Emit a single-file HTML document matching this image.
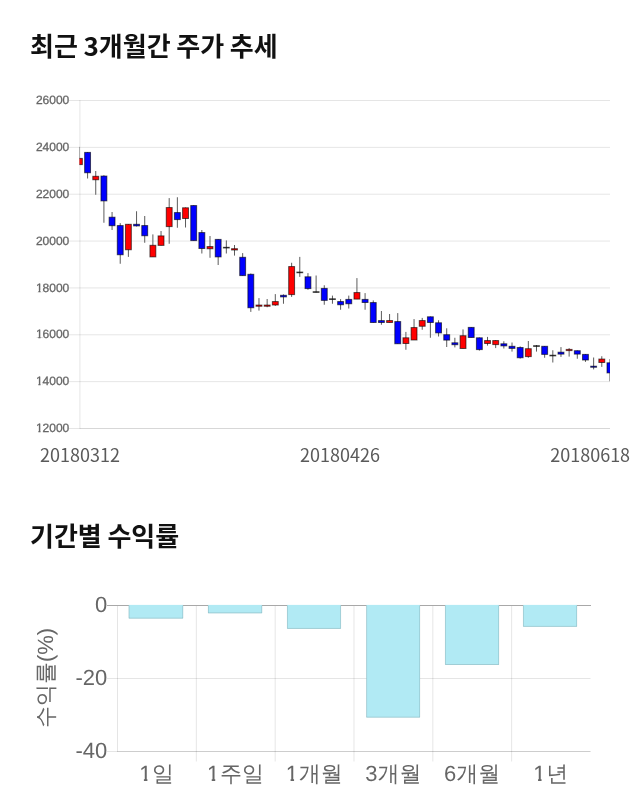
<!DOCTYPE html>
<html lang="ko">
<head>
<meta charset="utf-8">
<title>최근 3개월간 주가 추세</title>
<style>
html,body{margin:0;padding:0;background:#fff;}
body{width:640px;height:810px;position:relative;overflow:hidden;font-family:"Liberation Sans","Noto Sans CJK KR",sans-serif;}
h2{position:absolute;margin:0;left:30px;font-family:"Noto Sans CJK KR","Liberation Sans",sans-serif;font-weight:700;font-size:26px;line-height:36px;color:#111;white-space:nowrap;word-spacing:-1.6px;}
#t1{top:26.7px;}
#t2{top:516.5px;}
svg{position:absolute;left:0;top:0;}
.yl{font-family:"Liberation Sans",sans-serif;font-size:12px;fill:#666;stroke:#666;stroke-width:0.3px;text-anchor:end;text-rendering:geometricPrecision;}
.dl{font-family:"Noto Sans CJK KR","Liberation Sans",sans-serif;font-size:18px;fill:#5a5a5a;}
.bl{font-family:"Liberation Sans","WenQuanYi Zen Hei",sans-serif;font-size:22px;fill:#666;text-rendering:geometricPrecision;}
</style>
</head>
<body>
<h2 id="t1">최근 3개월간 주가 추세</h2>
<h2 id="t2">기간별 수익률</h2>
<svg width="640" height="810" viewBox="0 0 640 810">

<g stroke="#000" stroke-opacity="0.1" stroke-width="1">
<line x1="69" x2="610" y1="100.50" y2="100.50"/>
<line x1="69" x2="610" y1="147.36" y2="147.36"/>
<line x1="69" x2="610" y1="194.21" y2="194.21"/>
<line x1="69" x2="610" y1="241.07" y2="241.07"/>
<line x1="69" x2="610" y1="287.93" y2="287.93"/>
<line x1="69" x2="610" y1="334.79" y2="334.79"/>
<line x1="69" x2="610" y1="381.64" y2="381.64"/>
<line x1="69" x2="610" y1="428.50" y2="428.50"/>
<line x1="79.9" x2="79.9" y1="100" y2="429"/>
<line x1="80" x2="610" y1="428.5" y2="428.5" stroke-opacity="0.06"/>
</g>
<text class="yl" x="69.3" y="104.20">26000</text>
<text class="yl" x="69.3" y="151.06">24000</text>
<text class="yl" x="69.3" y="197.91">22000</text>
<text class="yl" x="69.3" y="244.77">20000</text>
<text class="yl" x="69.3" y="291.63">18000</text>
<path d="M34.93,290.33H38.38V292.83H34.93ZM40.53,290.33H42.68V292.83H40.53Z" fill="#fff"/>
<text class="yl" x="69.3" y="338.49">16000</text>
<path d="M34.93,337.19H38.38V339.69H34.93ZM40.53,337.19H42.68V339.69H40.53Z" fill="#fff"/>
<text class="yl" x="69.3" y="385.34">14000</text>
<path d="M34.93,384.04H38.38V386.54H34.93ZM40.53,384.04H42.68V386.54H40.53Z" fill="#fff"/>
<text class="yl" x="69.3" y="432.20">12000</text>
<path d="M34.93,430.90H38.38V433.40H34.93ZM40.53,430.90H42.68V433.40H40.53Z" fill="#fff"/>
<defs><clipPath id="cc"><rect x="79.5" y="95" width="530.5" height="336"/></clipPath></defs>
<g clip-path="url(#cc)">
<line x1="79.42" x2="79.42" y1="146.90" y2="164.60" stroke="#5c5c5c" stroke-width="1"/>
<rect x="76.47" y="158.40" width="5.90" height="6.20" fill="#ff0000" stroke="rgba(0,0,0,0.6)" stroke-width="1"/>
<line x1="87.58" x2="87.58" y1="152.10" y2="178.50" stroke="#5c5c5c" stroke-width="1"/>
<rect x="84.63" y="152.40" width="5.90" height="20.35" fill="#0000ff" stroke="rgba(0,0,0,0.6)" stroke-width="1"/>
<line x1="95.74" x2="95.74" y1="171.00" y2="194.75" stroke="#5c5c5c" stroke-width="1"/>
<rect x="92.79" y="176.30" width="5.90" height="3.45" fill="#ff0000" stroke="rgba(0,0,0,0.6)" stroke-width="1"/>
<line x1="103.91" x2="103.91" y1="175.25" y2="222.75" stroke="#5c5c5c" stroke-width="1"/>
<rect x="100.96" y="176.05" width="5.90" height="24.85" fill="#0000ff" stroke="rgba(0,0,0,0.6)" stroke-width="1"/>
<line x1="112.07" x2="112.07" y1="212.00" y2="230.00" stroke="#5c5c5c" stroke-width="1"/>
<rect x="109.12" y="217.20" width="5.90" height="8.50" fill="#0000ff" stroke="rgba(0,0,0,0.6)" stroke-width="1"/>
<line x1="120.23" x2="120.23" y1="223.10" y2="263.75" stroke="#5c5c5c" stroke-width="1"/>
<rect x="117.28" y="225.55" width="5.90" height="29.20" fill="#0000ff" stroke="rgba(0,0,0,0.6)" stroke-width="1"/>
<line x1="128.39" x2="128.39" y1="224.00" y2="256.90" stroke="#5c5c5c" stroke-width="1"/>
<rect x="125.44" y="224.30" width="5.90" height="25.45" fill="#ff0000" stroke="rgba(0,0,0,0.6)" stroke-width="1"/>
<line x1="136.55" x2="136.55" y1="211.25" y2="226.50" stroke="#5c5c5c" stroke-width="1"/>
<rect x="133.60" y="224.30" width="5.90" height="1.60" fill="#0000ff" stroke="rgba(0,0,0,0.6)" stroke-width="1"/>
<line x1="144.72" x2="144.72" y1="216.00" y2="242.75" stroke="#5c5c5c" stroke-width="1"/>
<rect x="141.77" y="225.55" width="5.90" height="10.20" fill="#0000ff" stroke="rgba(0,0,0,0.6)" stroke-width="1"/>
<line x1="152.88" x2="152.88" y1="234.40" y2="256.90" stroke="#5c5c5c" stroke-width="1"/>
<rect x="149.93" y="245.30" width="5.90" height="11.60" fill="#ff0000" stroke="rgba(0,0,0,0.6)" stroke-width="1"/>
<line x1="161.04" x2="161.04" y1="231.00" y2="245.40" stroke="#5c5c5c" stroke-width="1"/>
<rect x="158.09" y="235.90" width="5.90" height="9.50" fill="#ff0000" stroke="rgba(0,0,0,0.6)" stroke-width="1"/>
<line x1="169.20" x2="169.20" y1="198.10" y2="243.75" stroke="#5c5c5c" stroke-width="1"/>
<rect x="166.25" y="207.55" width="5.90" height="19.05" fill="#ff0000" stroke="rgba(0,0,0,0.6)" stroke-width="1"/>
<line x1="177.36" x2="177.36" y1="197.25" y2="227.75" stroke="#5c5c5c" stroke-width="1"/>
<rect x="174.41" y="212.55" width="5.90" height="7.05" fill="#0000ff" stroke="rgba(0,0,0,0.6)" stroke-width="1"/>
<line x1="185.53" x2="185.53" y1="207.50" y2="227.50" stroke="#5c5c5c" stroke-width="1"/>
<rect x="182.58" y="207.80" width="5.90" height="10.70" fill="#ff0000" stroke="rgba(0,0,0,0.6)" stroke-width="1"/>
<line x1="193.69" x2="193.69" y1="205.25" y2="240.60" stroke="#5c5c5c" stroke-width="1"/>
<rect x="190.74" y="205.55" width="5.90" height="35.05" fill="#0000ff" stroke="rgba(0,0,0,0.6)" stroke-width="1"/>
<line x1="201.85" x2="201.85" y1="230.00" y2="253.50" stroke="#5c5c5c" stroke-width="1"/>
<rect x="198.90" y="232.55" width="5.90" height="15.95" fill="#0000ff" stroke="rgba(0,0,0,0.6)" stroke-width="1"/>
<line x1="210.01" x2="210.01" y1="236.00" y2="257.75" stroke="#5c5c5c" stroke-width="1"/>
<rect x="207.06" y="246.55" width="5.90" height="2.20" fill="#ff0000" stroke="rgba(0,0,0,0.6)" stroke-width="1"/>
<line x1="218.17" x2="218.17" y1="239.10" y2="265.00" stroke="#5c5c5c" stroke-width="1"/>
<rect x="215.22" y="239.40" width="5.90" height="17.50" fill="#0000ff" stroke="rgba(0,0,0,0.6)" stroke-width="1"/>
<line x1="226.34" x2="226.34" y1="240.40" y2="253.50" stroke="#5c5c5c" stroke-width="1"/>
<rect x="223.39" y="247.30" width="5.90" height="0.70" fill="#333333" stroke="rgba(0,0,0,0.6)" stroke-width="1"/>
<line x1="234.50" x2="234.50" y1="245.00" y2="255.60" stroke="#5c5c5c" stroke-width="1"/>
<rect x="231.55" y="248.70" width="5.90" height="1.30" fill="#ff0000" stroke="rgba(0,0,0,0.6)" stroke-width="1"/>
<line x1="242.66" x2="242.66" y1="253.10" y2="275.60" stroke="#5c5c5c" stroke-width="1"/>
<rect x="239.71" y="257.30" width="5.90" height="18.30" fill="#0000ff" stroke="rgba(0,0,0,0.6)" stroke-width="1"/>
<line x1="250.82" x2="250.82" y1="273.50" y2="311.90" stroke="#5c5c5c" stroke-width="1"/>
<rect x="247.87" y="274.30" width="5.90" height="33.45" fill="#0000ff" stroke="rgba(0,0,0,0.6)" stroke-width="1"/>
<line x1="258.98" x2="258.98" y1="298.10" y2="310.60" stroke="#5c5c5c" stroke-width="1"/>
<rect x="256.03" y="305.05" width="5.90" height="1.20" fill="#ff0000" stroke="rgba(0,0,0,0.6)" stroke-width="1"/>
<line x1="267.15" x2="267.15" y1="299.00" y2="307.25" stroke="#5c5c5c" stroke-width="1"/>
<rect x="264.20" y="305.05" width="5.90" height="1.20" fill="#ff0000" stroke="rgba(0,0,0,0.6)" stroke-width="1"/>
<line x1="275.31" x2="275.31" y1="294.10" y2="305.90" stroke="#5c5c5c" stroke-width="1"/>
<rect x="272.36" y="301.55" width="5.90" height="3.45" fill="#ff0000" stroke="rgba(0,0,0,0.6)" stroke-width="1"/>
<line x1="283.47" x2="283.47" y1="294.40" y2="303.75" stroke="#5c5c5c" stroke-width="1"/>
<rect x="280.52" y="295.30" width="5.90" height="1.60" fill="#0000ff" stroke="rgba(0,0,0,0.6)" stroke-width="1"/>
<line x1="291.63" x2="291.63" y1="262.75" y2="296.90" stroke="#5c5c5c" stroke-width="1"/>
<rect x="288.68" y="266.55" width="5.90" height="28.05" fill="#ff0000" stroke="rgba(0,0,0,0.6)" stroke-width="1"/>
<line x1="299.79" x2="299.79" y1="256.90" y2="276.90" stroke="#5c5c5c" stroke-width="1"/>
<rect x="296.84" y="272.05" width="5.90" height="0.70" fill="#333333" stroke="rgba(0,0,0,0.6)" stroke-width="1"/>
<line x1="307.96" x2="307.96" y1="273.10" y2="289.75" stroke="#5c5c5c" stroke-width="1"/>
<rect x="305.01" y="276.80" width="5.90" height="11.80" fill="#0000ff" stroke="rgba(0,0,0,0.6)" stroke-width="1"/>
<line x1="316.12" x2="316.12" y1="275.50" y2="292.50" stroke="#5c5c5c" stroke-width="1"/>
<rect x="313.17" y="291.70" width="5.90" height="0.70" fill="#333333" stroke="rgba(0,0,0,0.6)" stroke-width="1"/>
<line x1="324.28" x2="324.28" y1="285.25" y2="304.75" stroke="#5c5c5c" stroke-width="1"/>
<rect x="321.33" y="288.40" width="5.90" height="12.00" fill="#0000ff" stroke="rgba(0,0,0,0.6)" stroke-width="1"/>
<line x1="332.44" x2="332.44" y1="295.60" y2="303.75" stroke="#5c5c5c" stroke-width="1"/>
<rect x="329.49" y="298.80" width="5.90" height="0.70" fill="#333333" stroke="rgba(0,0,0,0.6)" stroke-width="1"/>
<line x1="340.60" x2="340.60" y1="299.10" y2="309.75" stroke="#5c5c5c" stroke-width="1"/>
<rect x="337.65" y="301.55" width="5.90" height="3.20" fill="#0000ff" stroke="rgba(0,0,0,0.6)" stroke-width="1"/>
<line x1="348.77" x2="348.77" y1="295.60" y2="308.50" stroke="#5c5c5c" stroke-width="1"/>
<rect x="345.82" y="299.40" width="5.90" height="4.35" fill="#0000ff" stroke="rgba(0,0,0,0.6)" stroke-width="1"/>
<line x1="356.93" x2="356.93" y1="278.10" y2="299.10" stroke="#5c5c5c" stroke-width="1"/>
<rect x="353.98" y="292.55" width="5.90" height="6.55" fill="#ff0000" stroke="rgba(0,0,0,0.6)" stroke-width="1"/>
<line x1="365.09" x2="365.09" y1="293.10" y2="309.75" stroke="#5c5c5c" stroke-width="1"/>
<rect x="362.14" y="299.40" width="5.90" height="3.10" fill="#0000ff" stroke="rgba(0,0,0,0.6)" stroke-width="1"/>
<line x1="373.25" x2="373.25" y1="300.40" y2="322.50" stroke="#5c5c5c" stroke-width="1"/>
<rect x="370.30" y="302.55" width="5.90" height="19.95" fill="#0000ff" stroke="rgba(0,0,0,0.6)" stroke-width="1"/>
<line x1="381.41" x2="381.41" y1="311.00" y2="324.75" stroke="#5c5c5c" stroke-width="1"/>
<rect x="378.46" y="320.60" width="5.90" height="1.90" fill="#0000ff" stroke="rgba(0,0,0,0.6)" stroke-width="1"/>
<line x1="389.58" x2="389.58" y1="314.00" y2="322.50" stroke="#5c5c5c" stroke-width="1"/>
<rect x="386.63" y="320.55" width="5.90" height="1.95" fill="#ff0000" stroke="rgba(0,0,0,0.6)" stroke-width="1"/>
<line x1="397.74" x2="397.74" y1="313.10" y2="343.75" stroke="#5c5c5c" stroke-width="1"/>
<rect x="394.79" y="321.55" width="5.90" height="22.20" fill="#0000ff" stroke="rgba(0,0,0,0.6)" stroke-width="1"/>
<line x1="405.90" x2="405.90" y1="331.90" y2="349.75" stroke="#5c5c5c" stroke-width="1"/>
<rect x="402.95" y="337.80" width="5.90" height="5.70" fill="#ff0000" stroke="rgba(0,0,0,0.6)" stroke-width="1"/>
<line x1="414.06" x2="414.06" y1="319.10" y2="340.00" stroke="#5c5c5c" stroke-width="1"/>
<rect x="411.11" y="327.55" width="5.90" height="12.45" fill="#ff0000" stroke="rgba(0,0,0,0.6)" stroke-width="1"/>
<line x1="422.22" x2="422.22" y1="317.90" y2="329.75" stroke="#5c5c5c" stroke-width="1"/>
<rect x="419.27" y="320.55" width="5.90" height="5.70" fill="#ff0000" stroke="rgba(0,0,0,0.6)" stroke-width="1"/>
<line x1="430.39" x2="430.39" y1="316.50" y2="337.75" stroke="#5c5c5c" stroke-width="1"/>
<rect x="427.44" y="316.80" width="5.90" height="5.70" fill="#0000ff" stroke="rgba(0,0,0,0.6)" stroke-width="1"/>
<line x1="438.55" x2="438.55" y1="320.25" y2="336.50" stroke="#5c5c5c" stroke-width="1"/>
<rect x="435.60" y="322.80" width="5.90" height="10.10" fill="#0000ff" stroke="rgba(0,0,0,0.6)" stroke-width="1"/>
<line x1="446.71" x2="446.71" y1="328.30" y2="347.00" stroke="#5c5c5c" stroke-width="1"/>
<rect x="443.76" y="334.70" width="5.90" height="5.40" fill="#0000ff" stroke="rgba(0,0,0,0.6)" stroke-width="1"/>
<line x1="454.87" x2="454.87" y1="337.75" y2="347.40" stroke="#5c5c5c" stroke-width="1"/>
<rect x="451.92" y="342.80" width="5.90" height="1.90" fill="#0000ff" stroke="rgba(0,0,0,0.6)" stroke-width="1"/>
<line x1="463.03" x2="463.03" y1="329.40" y2="348.50" stroke="#5c5c5c" stroke-width="1"/>
<rect x="460.08" y="335.70" width="5.90" height="12.80" fill="#ff0000" stroke="rgba(0,0,0,0.6)" stroke-width="1"/>
<line x1="471.20" x2="471.20" y1="327.10" y2="337.50" stroke="#5c5c5c" stroke-width="1"/>
<rect x="468.25" y="327.40" width="5.90" height="10.10" fill="#0000ff" stroke="rgba(0,0,0,0.6)" stroke-width="1"/>
<line x1="479.36" x2="479.36" y1="337.50" y2="350.60" stroke="#5c5c5c" stroke-width="1"/>
<rect x="476.41" y="337.80" width="5.90" height="11.80" fill="#0000ff" stroke="rgba(0,0,0,0.6)" stroke-width="1"/>
<line x1="487.52" x2="487.52" y1="336.90" y2="345.60" stroke="#5c5c5c" stroke-width="1"/>
<rect x="484.57" y="340.55" width="5.90" height="2.95" fill="#ff0000" stroke="rgba(0,0,0,0.6)" stroke-width="1"/>
<line x1="495.68" x2="495.68" y1="340.25" y2="348.10" stroke="#5c5c5c" stroke-width="1"/>
<rect x="492.73" y="340.55" width="5.90" height="4.05" fill="#ff0000" stroke="rgba(0,0,0,0.6)" stroke-width="1"/>
<line x1="503.84" x2="503.84" y1="341.25" y2="348.50" stroke="#5c5c5c" stroke-width="1"/>
<rect x="500.89" y="343.80" width="5.90" height="2.10" fill="#0000ff" stroke="rgba(0,0,0,0.6)" stroke-width="1"/>
<line x1="512.01" x2="512.01" y1="342.50" y2="351.60" stroke="#5c5c5c" stroke-width="1"/>
<rect x="509.06" y="346.30" width="5.90" height="2.10" fill="#0000ff" stroke="rgba(0,0,0,0.6)" stroke-width="1"/>
<line x1="520.17" x2="520.17" y1="346.40" y2="358.60" stroke="#5c5c5c" stroke-width="1"/>
<rect x="517.22" y="347.50" width="5.90" height="10.25" fill="#0000ff" stroke="rgba(0,0,0,0.6)" stroke-width="1"/>
<line x1="528.33" x2="528.33" y1="341.00" y2="357.75" stroke="#5c5c5c" stroke-width="1"/>
<rect x="525.38" y="348.70" width="5.90" height="7.90" fill="#ff0000" stroke="rgba(0,0,0,0.6)" stroke-width="1"/>
<line x1="536.49" x2="536.49" y1="345.00" y2="351.60" stroke="#5c5c5c" stroke-width="1"/>
<rect x="533.54" y="345.70" width="5.90" height="0.70" fill="#333333" stroke="rgba(0,0,0,0.6)" stroke-width="1"/>
<line x1="544.65" x2="544.65" y1="346.00" y2="357.75" stroke="#5c5c5c" stroke-width="1"/>
<rect x="541.70" y="346.30" width="5.90" height="8.10" fill="#0000ff" stroke="rgba(0,0,0,0.6)" stroke-width="1"/>
<line x1="552.82" x2="552.82" y1="350.25" y2="362.50" stroke="#5c5c5c" stroke-width="1"/>
<rect x="549.87" y="355.20" width="5.90" height="0.70" fill="#333333" stroke="rgba(0,0,0,0.6)" stroke-width="1"/>
<line x1="560.98" x2="560.98" y1="347.10" y2="356.90" stroke="#5c5c5c" stroke-width="1"/>
<rect x="558.03" y="352.20" width="5.90" height="1.90" fill="#0000ff" stroke="rgba(0,0,0,0.6)" stroke-width="1"/>
<line x1="569.14" x2="569.14" y1="348.10" y2="356.60" stroke="#5c5c5c" stroke-width="1"/>
<rect x="566.19" y="349.40" width="5.90" height="1.20" fill="#ff0000" stroke="rgba(0,0,0,0.6)" stroke-width="1"/>
<line x1="577.30" x2="577.30" y1="350.40" y2="358.75" stroke="#5c5c5c" stroke-width="1"/>
<rect x="574.35" y="350.70" width="5.90" height="3.40" fill="#0000ff" stroke="rgba(0,0,0,0.6)" stroke-width="1"/>
<line x1="585.46" x2="585.46" y1="354.10" y2="361.90" stroke="#5c5c5c" stroke-width="1"/>
<rect x="582.51" y="354.40" width="5.90" height="5.60" fill="#0000ff" stroke="rgba(0,0,0,0.6)" stroke-width="1"/>
<line x1="593.63" x2="593.63" y1="357.50" y2="369.40" stroke="#5c5c5c" stroke-width="1"/>
<rect x="590.68" y="366.20" width="5.90" height="1.05" fill="#0000ff" stroke="rgba(0,0,0,0.6)" stroke-width="1"/>
<line x1="601.79" x2="601.79" y1="356.25" y2="366.90" stroke="#5c5c5c" stroke-width="1"/>
<rect x="598.84" y="359.05" width="5.90" height="3.45" fill="#ff0000" stroke="rgba(0,0,0,0.6)" stroke-width="1"/>
<line x1="609.95" x2="609.95" y1="359.10" y2="381.25" stroke="#5c5c5c" stroke-width="1"/>
<rect x="607.00" y="362.80" width="5.90" height="10.10" fill="#0000ff" stroke="rgba(0,0,0,0.6)" stroke-width="1"/>
</g>
<text class="dl" x="40" y="461.9">20180312</text>
<text class="dl" x="300" y="461.9">20180426</text>
<text class="dl" x="550.2" y="461.9">20180618</text>
<g stroke="#000" stroke-opacity="0.1" stroke-width="1">
<line x1="107" x2="590.5" y1="678.5" y2="678.5"/>
<line x1="107" x2="590.5" y1="751.5" y2="751.5"/>
<line x1="117.5" x2="590.5" y1="751.5" y2="751.5"/>
<line x1="117.50" x2="117.50" y1="605" y2="752"/>
<line x1="196.33" x2="196.33" y1="605" y2="761.5"/>
<line x1="275.16" x2="275.16" y1="605" y2="761.5"/>
<line x1="353.99" x2="353.99" y1="605" y2="761.5"/>
<line x1="432.82" x2="432.82" y1="605" y2="761.5"/>
<line x1="511.65" x2="511.65" y1="605" y2="761.5"/>
</g>
<rect x="107" y="605" width="483.5" height="1" fill="#a8a8a8" shape-rendering="crispEdges"/>
<rect x="128.70" y="604.9" width="54.40" height="13.70" fill="#b1eaf4"/>
<path d="M129.00,605.5V618.20H182.80V605.5" fill="none" stroke="#000" stroke-opacity="0.13" stroke-width="1"/>
<rect x="208.00" y="604.9" width="54.10" height="8.40" fill="#b1eaf4"/>
<path d="M208.30,605.5V612.90H261.80V605.5" fill="none" stroke="#000" stroke-opacity="0.13" stroke-width="1"/>
<rect x="287.10" y="604.9" width="53.80" height="23.95" fill="#b1eaf4"/>
<path d="M287.40,605.5V628.45H340.60V605.5" fill="none" stroke="#000" stroke-opacity="0.13" stroke-width="1"/>
<rect x="366.30" y="604.9" width="53.70" height="112.70" fill="#b1eaf4"/>
<path d="M366.60,605.5V717.20H419.70V605.5" fill="none" stroke="#000" stroke-opacity="0.13" stroke-width="1"/>
<rect x="445.10" y="604.9" width="53.90" height="60.00" fill="#b1eaf4"/>
<path d="M445.40,605.5V664.50H498.70V605.5" fill="none" stroke="#000" stroke-opacity="0.13" stroke-width="1"/>
<rect x="523.10" y="604.9" width="53.90" height="21.90" fill="#b1eaf4"/>
<path d="M523.40,605.5V626.40H576.70V605.5" fill="none" stroke="#000" stroke-opacity="0.13" stroke-width="1"/>
<text class="bl" x="107.2" y="611.5" text-anchor="end">0</text>
<text class="bl" x="107.2" y="684.5" text-anchor="end">-20</text>
<text class="bl" x="107.2" y="757.5" text-anchor="end">-40</text>
<text class="bl" x="139.80" y="781.1" dx="-0.6 0.6">1일</text>
<path d="M137.20,778.9H143.90V783H137.20ZM147.40,778.9H152.20V783H147.40Z" fill="#fff"/>
<text class="bl" x="207.63" y="781.1" dx="-0.6 0.6">1주일</text>
<path d="M205.03,778.9H211.73V783H205.03ZM215.23,778.9H220.03V783H215.23Z" fill="#fff"/>
<text class="bl" x="286.46" y="781.1" dx="-0.6 0.6">1개월</text>
<path d="M283.86,778.9H290.56V783H283.86ZM294.06,778.9H298.86V783H294.06Z" fill="#fff"/>
<text class="bl" x="365.29" y="781.1">3개월</text>
<text class="bl" x="444.12" y="781.1">6개월</text>
<text class="bl" x="533.95" y="781.1" dx="-0.6 0.6">1년</text>
<path d="M531.35,778.9H538.05V783H531.35ZM541.55,778.9H546.35V783H541.55Z" fill="#fff"/>
<text class="bl" transform="translate(53.4,678) rotate(-90)" text-anchor="middle">수익률(%)</text>
</svg>
</body>
</html>
